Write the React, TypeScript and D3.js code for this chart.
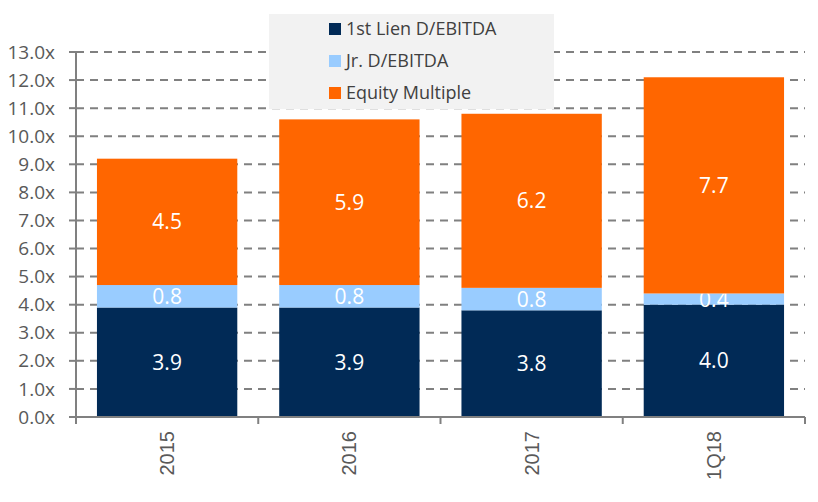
import { useEffect, useRef } from "react";
import * as d3 from "d3";

const categories = ["2015", "2016", "2017", "1Q18"];
const firstLien = [3.9, 3.9, 3.8, 4.0];
const junior = [0.8, 0.8, 0.8, 0.4];
const equity = [4.5, 5.9, 6.2, 7.7];
const seriesNames = ["1st Lien D/EBITDA", "Jr. D/EBITDA", "Equity Multiple"];
const seriesColors = ["#012a56", "#99ccff", "#ff6600"];
const yTicks = [0, 1, 2, 3, 4, 5, 6, 7, 8, 9, 10, 11, 12, 13];

const FONT = "'Open Sans', Lato, sans-serif";
const XFONT = "'Liberation Sans', Arial, sans-serif";

export default function App() {
  const ref = useRef<SVGSVGElement>(null);
  useEffect(() => {
    if (!ref.current) return;
    const svg = d3.select(ref.current);
    svg.selectAll("*").remove();
    const W = 818, H = 502;
    const m = { l: 76, r: 13, t: 52, b: 85 };
    svg.attr("viewBox", `0 0 ${W} ${H}`).attr("width", W).attr("height", H);

    const x = d3.scaleBand(categories, [m.l, W - m.r]).paddingInner(0.23).paddingOuter(0.115);
    const y = d3.scaleLinear([0, 13], [H - m.b, m.t]);

    // grid
    svg.append("g").selectAll("line").data(yTicks.filter((t) => t > 0)).enter().append("line")
      .attr("x1", m.l).attr("x2", W - m.r)
      .attr("y1", (d) => y(d)).attr("y2", (d) => y(d))
      .attr("stroke", "#808080").attr("stroke-width", 2).attr("stroke-dasharray", "8,6");

    // stacks
    const rows = categories.map((c, i) => ({ cat: c, a: firstLien[i], b: junior[i], c: equity[i] }));
    const stack = d3.stack<any>().keys(["a", "b", "c"])(rows);
    stack.forEach((layer, li) => {
      const g = svg.append("g");
      g.selectAll("rect").data(layer).enter().append("rect")
        .attr("x", (d) => x(d.data.cat)!)
        .attr("width", x.bandwidth())
        .attr("y", (d) => y(d[1]))
        .attr("height", (d) => y(d[0]) - y(d[1]))
        .attr("fill", seriesColors[li]);
      g.selectAll("text").data(layer).enter().append("text")
        .attr("x", (d) => x(d.data.cat)! + x.bandwidth() / 2)
        .attr("y", (d) => (y(d[0]) + y(d[1])) / 2)
        .attr("dy", "0.36em")
        .attr("text-anchor", "middle")
        .attr("font-family", FONT).attr("font-size", 21)
        .attr("fill", "#ffffff")
        .text((d) => d3.format(".1f")(d[1] - d[0]));
    });

    // y axis
    const ya = svg.append("g");
    ya.append("line").attr("x1", m.l).attr("x2", m.l).attr("y1", y(13)).attr("y2", y(0))
      .attr("stroke", "#808080").attr("stroke-width", 2);
    ya.selectAll("line.t").data(yTicks).enter().append("line").attr("class", "t")
      .attr("x1", m.l - 7).attr("x2", m.l).attr("y1", (d) => y(d)).attr("y2", (d) => y(d))
      .attr("stroke", "#808080").attr("stroke-width", 2);
    ya.selectAll("text").data(yTicks).enter().append("text")
      .attr("x", m.l - 21).attr("y", (d) => y(d)).attr("dy", "0.35em")
      .attr("text-anchor", "end").attr("font-family", FONT).attr("font-size", 19)
      .attr("fill", "#595959").text((d) => d3.format(".1f")(d) + "x");

    // x axis
    const xa = svg.append("g");
    xa.append("line").attr("x1", m.l).attr("x2", W - m.r).attr("y1", y(0)).attr("y2", y(0))
      .attr("stroke", "#808080").attr("stroke-width", 2);
    const bounds = d3.range(categories.length + 1).map((i) => m.l + i * (W - m.r - m.l) / categories.length);
    xa.selectAll("line.t").data(bounds).enter().append("line").attr("class", "t")
      .attr("x1", (d) => d).attr("x2", (d) => d).attr("y1", y(0)).attr("y2", y(0) + 7)
      .attr("stroke", "#808080").attr("stroke-width", 2);
    xa.selectAll("text").data(categories).enter().append("text")
      .attr("transform", (d) => `translate(${x(d)! + x.bandwidth() / 2},${y(0) + 14}) rotate(-90)`)
      .attr("dy", "0.35em").attr("text-anchor", "end")
      .attr("font-family", XFONT).attr("font-size", 20).attr("fill", "#595959")
      .text((d) => d);

    // legend
    const lg = svg.append("g");
    lg.append("rect").attr("x", 269).attr("y", 14).attr("width", 285).attr("height", 95).attr("fill", "#f2f2f2");
    seriesNames.forEach((n, i) => {
      lg.append("rect").attr("x", 329).attr("y", 23 + i * 32).attr("width", 12).attr("height", 12)
        .attr("fill", seriesColors[i]);
      lg.append("text").attr("x", 346).attr("y", 29 + i * 32).attr("dy", "0.36em")
        .attr("font-family", FONT).attr("font-size", 18).attr("fill", "#404040").text(n);
    });
  }, []);
  return <svg ref={ref} style={{ position: "absolute", left: 0, top: 0, background: "#fff" }} />;
}
